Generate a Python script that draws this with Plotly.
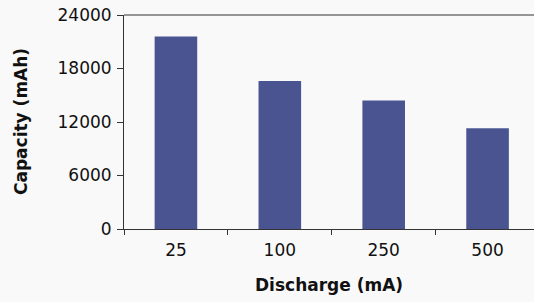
import plotly.graph_objects as go

categories = ["25", "100", "250", "500"]
capacity = [21600, 16600, 14400, 11300]
y_ticks = [0, 6000, 12000, 18000, 24000]

fig = go.Figure(go.Bar(x=categories, y=capacity, marker=dict(color="#4a5490", line=dict(width=0))))

fig.update_layout(
    width=534, height=302,
    margin=dict(l=124, r=0, t=15, b=73, autoexpand=False),
    paper_bgcolor="#f9f9f9", plot_bgcolor="#f9f9f9",
    bargap=0.59,
    showlegend=False,
    font=dict(family="DejaVu Sans", color="#111111"),
    annotations=[
        dict(text="<b>Discharge (mA)</b>", xref="paper", yref="paper", x=0.5, y=0,
             xanchor="center", yanchor="middle", yshift=-56, showarrow=False,
             font=dict(size=17)),
        dict(text="<b>Capacity (mAh)</b>", xref="paper", yref="paper", x=0, y=0.5,
             xanchor="center", yanchor="middle", xshift=-103, showarrow=False,
             textangle=-90, font=dict(size=17)),
    ],
    shapes=[dict(type="line", xref="paper", x0=0, x1=1, yref="paper", y0=1, y1=1,
                 line=dict(color="#333333", width=1))],
)
fig.update_xaxes(
    type="category", range=[-0.5, 3.447], automargin=False,
    showline=True, linecolor="#333333", linewidth=1,
    ticks="outside", tickson="boundaries", ticklen=5, tickcolor="#333333",
    tickfont=dict(size=17), showgrid=False, ticklabelstandoff=6,
)
fig.update_yaxes(
    range=[0, 24000], tickvals=y_ticks, ticktext=[str(v) for v in y_ticks],
    automargin=False,
    showline=True, linecolor="#333333", linewidth=1,
    ticks="outside", ticklen=6, tickcolor="#333333",
    tickfont=dict(size=17), showgrid=False, zeroline=False, ticklabelstandoff=2,
)

fig.write_html("out.html", config={"displayModeBar": False},
               post_script="document.body.style.margin='0';")
